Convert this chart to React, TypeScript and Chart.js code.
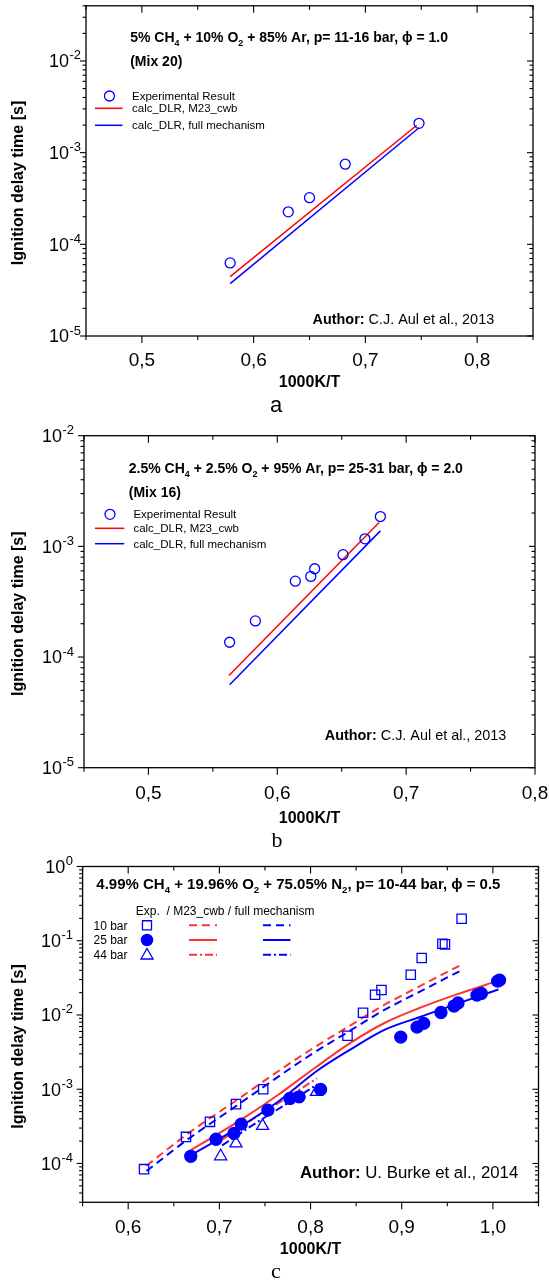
import React, { useEffect, useRef } from "react";
import { Chart, registerables } from "chart.js";

Chart.register(...registerables);

const SANS = '"Liberation Sans", Arial, Helvetica, sans-serif';
const SERIF = '"Liberation Serif", "Times New Roman", serif';
const BLUE = "#0000ff";
const RED = "#ff0000";
const RED_C = "#ff3333";

// ---------------- Panel a data ----------------
const aExpX = [0.579, 0.631, 0.65, 0.682, 0.748];
const aExpY = [6.27e-5, 2.26e-4, 3.23e-4, 7.48e-4, 2.09e-3];
const aM23X = [0.579, 0.746];
const aM23Y = [4.45e-5, 1.99e-3];
const aFullX = [0.579, 0.748];
const aFullY = [3.73e-5, 1.87e-3];
const aXTicks = [0.5, 0.6, 0.7, 0.8];
const aXTickLabels = ["0,5", "0,6", "0,7", "0,8"];
const aXMinor = [0.45, 0.55, 0.65, 0.75, 0.85];
const aYDecades = [-5, -4, -3, -2];

// ---------------- Panel b data ----------------
const bExpX = [0.563, 0.583, 0.614, 0.626, 0.629, 0.651, 0.668, 0.68];
const bExpY = [1.36e-4, 2.12e-4, 4.85e-4, 5.35e-4, 6.28e-4, 8.41e-4, 1.17e-3, 1.86e-3];
const bM23X = [0.5625, 0.679];
const bM23Y = [6.81e-5, 1.64e-3];
const bFullX = [0.563, 0.68];
const bFullY = [5.61e-5, 1.38e-3];
const bXTicks = [0.5, 0.6, 0.7, 0.8];
const bXTickLabels = ["0,5", "0,6", "0,7", "0,8"];
const bXMinor = [0.45, 0.55, 0.65, 0.75];
const bYDecades = [-5, -4, -3, -2];

// ---------------- Panel c data ----------------
const c10X = [0.6174, 0.6634, 0.6897, 0.7182, 0.7481, 0.8405, 0.8576, 0.8708, 0.8778, 0.9099, 0.9219, 0.9446, 0.9474, 0.9657];
const c10Y = [8.38e-5, 2.28e-4, 3.64e-4, 6.3e-4, 1.0e-3, 5.25e-3, 1.07e-2, 1.87e-2, 2.17e-2, 3.48e-2, 5.85e-2, 9.12e-2, 8.94e-2, 0.198];
const c25X = [0.6686, 0.6963, 0.716, 0.724, 0.7532, 0.7773, 0.7875, 0.811, 0.8989, 0.9168, 0.9241, 0.943, 0.9573, 0.9617, 0.9825, 0.9873, 1.0052, 1.0073];
const c25Y = [1.25e-4, 2.12e-4, 2.54e-4, 3.39e-4, 5.23e-4, 7.52e-4, 7.9e-4, 9.94e-4, 5.04e-3, 6.87e-3, 7.7e-3, 1.08e-2, 1.32e-2, 1.45e-2, 1.85e-2, 1.95e-2, 2.86e-2, 2.95e-2];
const c44X = [0.7014, 0.7182, 0.7474, 0.8066];
const c44Y = [1.25e-4, 1.86e-4, 3.21e-4, 9.22e-4];

const c10LineX = [0.62, 0.665, 0.718, 0.76, 0.8, 0.84, 0.88, 0.92, 0.966];
const c10M23Y = [9.3e-5, 2.5e-4, 7.0e-4, 1.6e-3, 3.4e-3, 6.8e-3, 1.35e-2, 2.45e-2, 4.8e-2];
const c10FullY = [7.9e-5, 2.1e-4, 5.9e-4, 1.35e-3, 2.9e-3, 5.8e-3, 1.15e-2, 2.07e-2, 4.03e-2];

const c25M23X = [0.668, 0.724, 0.765, 0.805, 0.845, 0.881, 0.92, 0.958, 1.006];
const c25M23Y = [1.5e-4, 3.9e-4, 8.5e-4, 1.95e-3, 4.3e-3, 7.8e-3, 1.25e-2, 1.85e-2, 2.9e-2];
const c25FullX = [0.668, 0.724, 0.765, 0.808, 0.845, 0.881, 0.92, 0.958, 1.006];
const c25FullY = [1.28e-4, 3.2e-4, 6.9e-4, 1.8e-3, 3.5e-3, 6.3e-3, 9.4e-3, 1.38e-2, 2.2e-2];

const c44LineX = [0.703, 0.74, 0.775, 0.807];
const c44M23Y = [2.1e-4, 4.2e-4, 7.8e-4, 1.4e-3];
const c44FullY = [1.75e-4, 3.5e-4, 6.5e-4, 1.15e-3];

const cXTicks = [0.6, 0.7, 0.8, 0.9, 1.0];
const cXTickLabels = ["0,6", "0,7", "0,8", "0,9", "1,0"];
const cXMinor = [0.55, 0.65, 0.75, 0.85, 0.95, 1.05];
const cYDecades = [-4, -3, -2, -1, 0];

// ---------------- helpers ----------------
const pts = (xs: number[], ys: number[]) => xs.map((x, i) => ({ x, y: ys[i] }));

type Seg = { t: string; s?: "sub" | "sup"; b?: boolean };
type TextSpec = {
  segs: Seg[];
  x: number;
  y: number;
  size: number;
  bold?: boolean;
  align?: "left" | "center" | "right";
  family?: string;
};
type LegendSpec =
  | { kind: "point"; style: "circle" | "rect" | "triangle"; fill: boolean; x: number; y: number; r: number }
  | { kind: "line"; color: string; dash: number[]; x1: number; x2: number; y: number; width: number };

type PanelSpec = {
  id: string;
  top: number;
  height: number;
  area: { left: number; right: number; top: number; bottom: number };
  xMin: number;
  xMax: number;
  yMin: number;
  yMax: number;
  xTicks: number[];
  xTickLabels: string[];
  xMinor: number[];
  yDecades: number[];
  xLabelBaseline: number;
  yLabelRight: number;
  xTitleBaseline: number;
  yTitleCenter: number;
  texts: TextSpec[];
  legend: LegendSpec[];
  datasets: any[];
};

function fontStr(size: number, bold: boolean, family = SANS) {
  return `${bold ? "bold " : ""}${size}px ${family}`;
}

function drawRich(ctx: CanvasRenderingContext2D, spec: TextSpec, dyTop: number) {
  const family = spec.family || SANS;
  const size = spec.size;
  const sub = size * 0.64;
  let w = 0;
  for (const sg of spec.segs) {
    const b = sg.b !== undefined ? sg.b : !!spec.bold;
    ctx.font = fontStr(sg.s ? sub : size, b, family);
    w += ctx.measureText(sg.t).width;
  }
  const align = spec.align || "left";
  let cx = align === "left" ? spec.x : align === "right" ? spec.x - w : spec.x - w / 2;
  ctx.textAlign = "left";
  ctx.textBaseline = "alphabetic";
  ctx.fillStyle = "#000";
  const base = spec.y - dyTop;
  for (const sg of spec.segs) {
    const b = sg.b !== undefined ? sg.b : !!spec.bold;
    ctx.font = fontStr(sg.s ? sub : size, b, family);
    const dy = sg.s === "sub" ? size * 0.28 : sg.s === "sup" ? -size * 0.42 : 0;
    ctx.fillText(sg.t, cx, base + dy);
    cx += ctx.measureText(sg.t).width;
  }
}

function drawMarker(ctx: CanvasRenderingContext2D, style: string, x: number, y: number, r: number, fill: boolean) {
  ctx.beginPath();
  if (style === "circle") {
    ctx.arc(x, y, r, 0, Math.PI * 2);
  } else if (style === "rect") {
    const s = Math.SQRT1_2 * r;
    ctx.rect(x - s, y - s, 2 * s, 2 * s);
  } else {
    let rad = 0;
    ctx.moveTo(x + Math.sin(rad) * r, y - Math.cos(rad) * r);
    rad += (2 * Math.PI) / 3;
    ctx.lineTo(x + Math.sin(rad) * r, y - Math.cos(rad) * r);
    rad += (2 * Math.PI) / 3;
    ctx.lineTo(x + Math.sin(rad) * r, y - Math.cos(rad) * r);
    ctx.closePath();
  }
  if (fill) {
    ctx.fillStyle = BLUE;
    ctx.fill();
  }
  ctx.strokeStyle = BLUE;
  ctx.lineWidth = 1.3;
  ctx.stroke();
}

function makeFrame(p: PanelSpec) {
  return {
    id: "frame_" + p.id,
    afterDraw(chart: any) {
      const ctx: CanvasRenderingContext2D = chart.ctx;
      const a = chart.chartArea;
      const xs = chart.scales.x;
      const ys = chart.scales.y;
      const T = p.top;
      ctx.save();
      ctx.setLineDash([]);
      ctx.strokeStyle = "#000";
      ctx.lineWidth = 1.3;
      ctx.strokeRect(a.left, a.top, a.right - a.left, a.bottom - a.top);
      const seg = (x1: number, y1: number, x2: number, y2: number) => {
        ctx.beginPath();
        ctx.moveTo(x1, y1);
        ctx.lineTo(x2, y2);
        ctx.stroke();
      };
      ctx.lineWidth = 1.1;
      for (const v of p.xTicks) {
        const px = xs.getPixelForValue(v);
        seg(px, a.bottom, px, a.bottom + 7);
        seg(px, a.top, px, a.top + 7);
      }
      for (const v of p.xMinor) {
        const px = xs.getPixelForValue(v);
        seg(px, a.bottom, px, a.bottom + 4);
        seg(px, a.top, px, a.top + 4);
      }
      const e0 = Math.floor(Math.log10(p.yMin));
      const e1 = Math.ceil(Math.log10(p.yMax));
      for (let e = e0; e <= e1; e++) {
        for (let m = 1; m <= 9; m++) {
          const v = m * Math.pow(10, e);
          if (v < p.yMin * 0.999 || v > p.yMax * 1.001) continue;
          const py = ys.getPixelForValue(v);
          const len = m === 1 ? 6 : 3.5;
          seg(a.left - len, py, a.left, py);
          seg(a.right - len, py, a.right, py);
        }
      }
      ctx.fillStyle = "#000";
      ctx.textAlign = "center";
      ctx.textBaseline = "alphabetic";
      ctx.font = fontStr(19, false);
      p.xTicks.forEach((v, i) => {
        ctx.fillText(p.xTickLabels[i], xs.getPixelForValue(v), p.xLabelBaseline - T);
      });
      for (const e of p.yDecades) {
        const py = ys.getPixelForValue(Math.pow(10, e));
        const expStr = String(e);
        ctx.font = fontStr(13, false);
        const we = ctx.measureText(expStr).width;
        ctx.textAlign = "left";
        ctx.fillText(expStr, p.yLabelRight - we, py - 1.5);
        ctx.font = fontStr(18, false);
        const wb = ctx.measureText("10").width;
        ctx.fillText("10", p.yLabelRight - we - wb - 0.5, py + 6.4);
      }
      ctx.font = fontStr(16, true);
      ctx.textAlign = "center";
      ctx.fillText("1000K/T", (a.left + a.right) / 2, p.xTitleBaseline - T);
      ctx.save();
      ctx.translate(19, p.yTitleCenter - T);
      ctx.rotate(-Math.PI / 2);
      ctx.textBaseline = "middle";
      ctx.fillText("Ignition delay time [s]", 0, 0);
      ctx.restore();
      for (const l of p.legend) {
        if (l.kind === "point") {
          drawMarker(ctx, l.style, l.x, l.y - T, l.r, l.fill);
        } else {
          ctx.strokeStyle = l.color;
          ctx.lineWidth = l.width;
          ctx.setLineDash(l.dash);
          seg(l.x1, l.y - T, l.x2, l.y - T);
          ctx.setLineDash([]);
        }
      }
      for (const t of p.texts) drawRich(ctx, t, T);
      ctx.restore();
    },
  };
}

function PanelChart({ spec }: { spec: PanelSpec }) {
  const ref = useRef<HTMLCanvasElement | null>(null);
  useEffect(() => {
    const canvas = ref.current;
    if (!canvas) return;
    const bottomMargin = spec.height - (spec.area.bottom - spec.top);
    const chart = new Chart(canvas, {
      type: "scatter",
      data: { datasets: spec.datasets },
      options: {
        animation: false,
        responsive: false,
        maintainAspectRatio: false,
        devicePixelRatio: 1,
        events: [],
        layout: {
          autoPadding: false,
          padding: { top: spec.area.top - spec.top, right: 549 - spec.area.right, left: 0, bottom: 0 },
        },
        plugins: { legend: { display: false }, tooltip: { enabled: false }, title: { display: false } },
        scales: {
          x: {
            type: "linear",
            min: spec.xMin,
            max: spec.xMax,
            grid: { display: false },
            border: { display: false },
            ticks: { display: false },
            afterFit: (s: any) => {
              s.height = bottomMargin;
            },
          },
          y: {
            type: "logarithmic",
            min: spec.yMin,
            max: spec.yMax,
            grid: { display: false },
            border: { display: false },
            ticks: { display: false },
            afterFit: (s: any) => {
              s.width = spec.area.left;
            },
          },
        },
      } as any,
      plugins: [makeFrame(spec) as any],
    });
    return () => chart.destroy();
  }, [spec]);
  return (
    <canvas
      ref={ref}
      width={549}
      height={spec.height}
      style={{ position: "absolute", left: 0, top: spec.top, width: 549, height: spec.height, display: "block" }}
    />
  );
}

const lineDs = (label: string, xs: number[], ys: number[], color: string, width: number, dash: number[] = [], smooth = false) => ({
  label,
  data: pts(xs, ys),
  showLine: true,
  borderColor: color,
  borderWidth: width,
  borderDash: dash,
  pointRadius: 0,
  fill: false,
  cubicInterpolationMode: smooth ? "monotone" : "default",
  tension: 0,
});

const markerDs = (label: string, xs: number[], ys: number[], style: string, r: number, fill: boolean) => ({
  label,
  data: pts(xs, ys),
  showLine: false,
  pointStyle: style,
  pointRadius: r,
  pointBorderWidth: 1.3,
  pointBorderColor: BLUE,
  pointBackgroundColor: fill ? BLUE : "rgba(0,0,0,0)",
  borderColor: BLUE,
  backgroundColor: fill ? BLUE : "rgba(0,0,0,0)",
});

const panelA: PanelSpec = {
  id: "a",
  top: 0,
  height: 415,
  area: { left: 86, right: 533, top: 5.8, bottom: 336 },
  xMin: 0.45,
  xMax: 0.85,
  yMin: 1e-5,
  yMax: 4e-2,
  xTicks: aXTicks,
  xTickLabels: aXTickLabels,
  xMinor: aXMinor,
  yDecades: aYDecades,
  xLabelBaseline: 365.5,
  yLabelRight: 81,
  xTitleBaseline: 386.7,
  yTitleCenter: 183,
  texts: [
    {
      segs: [{ t: "5% CH" }, { t: "4", s: "sub" }, { t: " + 10% O" }, { t: "2", s: "sub" }, { t: " + 85% Ar, p= 11-16 bar, ϕ = 1.0" }],
      x: 130.2,
      y: 42.3,
      size: 14,
      bold: true,
    },
    { segs: [{ t: "(Mix 20)" }], x: 130.2, y: 66, size: 14, bold: true },
    { segs: [{ t: "Experimental Result" }], x: 132, y: 100.1, size: 11.5 },
    { segs: [{ t: "calc_DLR, M23_cwb" }], x: 132, y: 112.4, size: 11.5 },
    { segs: [{ t: "calc_DLR, full mechanism" }], x: 132, y: 129.4, size: 11.5 },
    { segs: [{ t: "Author:", b: true }, { t: " C.J. Aul et al., 2013" }], x: 312.6, y: 323.9, size: 14.4 },
    { segs: [{ t: "a" }], x: 276, y: 412, size: 22, align: "center" },
  ],
  legend: [
    { kind: "point", style: "circle", fill: false, x: 109.5, y: 96, r: 5 },
    { kind: "line", color: RED, dash: [], x1: 95, x2: 122.5, y: 108.3, width: 1.5 },
    { kind: "line", color: BLUE, dash: [], x1: 95, x2: 122.5, y: 125.3, width: 1.5 },
  ],
  datasets: [
    markerDs("Experimental Result", aExpX, aExpY, "circle", 5, false),
    lineDs("calc_DLR, M23_cwb", aM23X, aM23Y, RED, 1.5),
    lineDs("calc_DLR, full mechanism", aFullX, aFullY, BLUE, 1.5),
  ],
};

const panelB: PanelSpec = {
  id: "b",
  top: 415,
  height: 435,
  area: { left: 84, right: 535, top: 435.7, bottom: 767.7 },
  xMin: 0.45,
  xMax: 0.8,
  yMin: 1e-5,
  yMax: 1e-2,
  xTicks: bXTicks,
  xTickLabels: bXTickLabels,
  xMinor: bXMinor,
  yDecades: bYDecades,
  xLabelBaseline: 798.8,
  yLabelRight: 74,
  xTitleBaseline: 822.7,
  yTitleCenter: 613.7,
  texts: [
    {
      segs: [{ t: "2.5% CH" }, { t: "4", s: "sub" }, { t: " + 2.5% O" }, { t: "2", s: "sub" }, { t: " + 95% Ar, p= 25-31 bar, ϕ = 2.0" }],
      x: 128.8,
      y: 472.7,
      size: 14,
      bold: true,
    },
    { segs: [{ t: "(Mix 16)" }], x: 128.8, y: 496.5, size: 14, bold: true },
    { segs: [{ t: "Experimental Result" }], x: 133.4, y: 518.4, size: 11.5 },
    { segs: [{ t: "calc_DLR, M23_cwb" }], x: 133.4, y: 532.4, size: 11.5 },
    { segs: [{ t: "calc_DLR, full mechanism" }], x: 133.4, y: 547.8, size: 11.5 },
    { segs: [{ t: "Author:", b: true }, { t: " C.J. Aul et al., 2013" }], x: 324.8, y: 739.9, size: 14.4 },
    { segs: [{ t: "b" }], x: 277, y: 846.7, size: 22, align: "center", family: SERIF },
  ],
  legend: [
    { kind: "point", style: "circle", fill: false, x: 110, y: 514.3, r: 5 },
    { kind: "line", color: RED, dash: [], x1: 95, x2: 124.3, y: 528.3, width: 1.5 },
    { kind: "line", color: BLUE, dash: [], x1: 95, x2: 124.3, y: 543.7, width: 1.5 },
  ],
  datasets: [
    markerDs("Experimental Result", bExpX, bExpY, "circle", 5, false),
    lineDs("calc_DLR, M23_cwb", bM23X, bM23Y, RED, 1.5),
    lineDs("calc_DLR, full mechanism", bFullX, bFullY, BLUE, 1.5),
  ],
};

const DASH = [8, 5];
const DASHDOT = [8, 3, 2, 3];

const panelC: PanelSpec = {
  id: "c",
  top: 850,
  height: 431,
  area: { left: 82.6, right: 538.5, top: 866.5, bottom: 1202.3 },
  xMin: 0.55,
  xMax: 1.05,
  yMin: 3e-5,
  yMax: 1,
  xTicks: cXTicks,
  xTickLabels: cXTickLabels,
  xMinor: cXMinor,
  yDecades: cYDecades,
  xLabelBaseline: 1232.8,
  yLabelRight: 73,
  xTitleBaseline: 1254,
  yTitleCenter: 1046.4,
  texts: [
    {
      segs: [
        { t: "4.99% CH" },
        { t: "4", s: "sub" },
        { t: " + 19.96% O" },
        { t: "2", s: "sub" },
        { t: " + 75.05% N" },
        { t: "2", s: "sub" },
        { t: ", p= 10-44 bar, ϕ = 0.5" },
      ],
      x: 96.3,
      y: 888.7,
      size: 15,
      bold: true,
    },
    { segs: [{ t: "Exp.  / M23_cwb / full mechanism" }], x: 135.8, y: 914.8, size: 12 },
    { segs: [{ t: "10 bar" }], x: 93.5, y: 929.6, size: 12 },
    { segs: [{ t: "25 bar" }], x: 93.5, y: 944.3, size: 12 },
    { segs: [{ t: "44 bar" }], x: 93.5, y: 959, size: 12 },
    { segs: [{ t: "Author:", b: true }, { t: " U. Burke et al., 2014" }], x: 300, y: 1177.7, size: 16.8 },
    { segs: [{ t: "c" }], x: 276, y: 1278, size: 22, align: "center", family: SERIF },
  ],
  legend: [
    { kind: "point", style: "rect", fill: false, x: 147, y: 925.3, r: 6.4 },
    { kind: "point", style: "circle", fill: true, x: 147, y: 940, r: 5.6 },
    { kind: "point", style: "triangle", fill: false, x: 147, y: 955.5, r: 7 },
    { kind: "line", color: RED_C, dash: DASH, x1: 189, x2: 217, y: 925.3, width: 2 },
    { kind: "line", color: RED_C, dash: [], x1: 189, x2: 217, y: 940, width: 2 },
    { kind: "line", color: RED_C, dash: DASHDOT, x1: 189, x2: 217, y: 954.7, width: 2 },
    { kind: "line", color: BLUE, dash: DASH, x1: 263, x2: 290.5, y: 925.3, width: 2 },
    { kind: "line", color: BLUE, dash: [], x1: 263, x2: 290.5, y: 940, width: 2 },
    { kind: "line", color: BLUE, dash: DASHDOT, x1: 263, x2: 290.5, y: 954.7, width: 2 },
  ],
  datasets: [
    markerDs("10 bar", c10X, c10Y, "rect", 6.6, false),
    markerDs("25 bar", c25X, c25Y, "circle", 6, true),
    markerDs("44 bar", c44X, c44Y, "triangle", 7, false),
    lineDs("10 bar M23_cwb", c10LineX, c10M23Y, RED_C, 2, DASH, true),
    lineDs("10 bar full mechanism", c10LineX, c10FullY, BLUE, 2, DASH, true),
    lineDs("25 bar M23_cwb", c25M23X, c25M23Y, RED_C, 2, [], true),
    lineDs("25 bar full mechanism", c25FullX, c25FullY, BLUE, 2, [], true),
    lineDs("44 bar M23_cwb", c44LineX, c44M23Y, RED_C, 2, DASHDOT, true),
    lineDs("44 bar full mechanism", c44LineX, c44FullY, BLUE, 2, DASHDOT, true),
  ],
};

export default function App() {
  return (
    <div style={{ position: "absolute", left: 0, top: 0, width: 549, height: 1281, background: "#fff", overflow: "hidden" }}>
      <PanelChart spec={panelA} />
      <PanelChart spec={panelB} />
      <PanelChart spec={panelC} />
    </div>
  );
}
